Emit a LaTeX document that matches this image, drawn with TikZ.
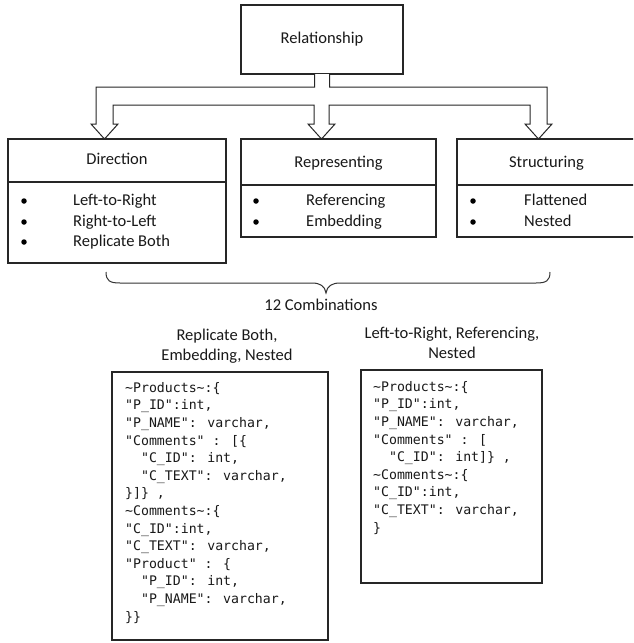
\documentclass[tikz,border=0pt]{standalone}
\usepackage{fontspec}
\setmainfont{Carlito}
\newfontfamily\codefont{DejaVu Sans Mono}
\usetikzlibrary{calc}
\newcommand\codeind{\phantom{xx}}
\begin{document}
\begin{tikzpicture}[x=1pt,y=-1pt,
  box/.style={draw=black!85, line width=1.1pt, fill=white, inner sep=0pt, outer sep=0pt},
  txt/.style={font=\fontsize{16.5}{20}\selectfont, text=black!90, inner sep=0pt, text height=11pt, text depth=3pt},
  item/.style={txt, anchor=west},
  bul/.style={circle, fill=black, inner sep=0pt, minimum size=5.5pt},
  lbl/.style={font=\fontsize{16.5}{20}\selectfont, text=black!90, align=center, inner sep=0pt},
  code/.style={font=\codefont\fontsize{13.2}{17.6}\selectfont, text=black!90, align=left, anchor=north west, inner sep=0pt},
  blockarrow/.style={draw=black!85, line width=1pt, fill=white, line join=miter},
  divider/.style={draw=black!85, line width=1.1pt},
]
\useasboundingbox (0,0) rectangle (633,643);
\clip (0,0) rectangle (633,643);

% top box
\node[box, txt, minimum width=162pt, minimum height=69pt, text height=11pt, text depth=3pt] (rel) at (322,39.5) {Relationship};

% category boxes
\node[box, minimum width=218pt, minimum height=124pt] (dir) at (117,201) {};
\node[box, minimum width=195pt, minimum height=98pt] (rep) at (338.5,188) {};
\node[box, minimum width=179pt, minimum height=98pt] (str) at (546.5,188) {};

\coordinate (dirdiv) at (0,182);
\coordinate (repdiv) at (0,185);
\draw[divider] (dir.west |- dirdiv) -- (dir.east |- dirdiv);
\draw[divider] (rep.west |- repdiv) -- (rep.east |- repdiv);
\draw[divider] (str.west |- repdiv) -- (str.east |- repdiv);

\node[txt] (dirh) at (117,160) {Direction};
\node[txt] (reph) at (338.5,163) {Representing};
\node[txt] (strh) at (546.5,163) {Structuring};

% bullets and items
\node[bul] (db1) at (24,201) {};
\node[bul] (db2) at (24,222) {};
\node[bul] (db3) at (24,242) {};
\node[item] (di1) at (73,201) {Left-to-Right};
\node[item] (di2) at (73,222) {Right-to-Left};
\node[item] (di3) at (73,242) {Replicate Both};

\node[bul] (rb1) at (256,201) {};
\node[bul] (rb2) at (256,222) {};
\node[item] (ri1) at (306,201) {Referencing};
\node[item] (ri2) at (306,222) {Embedding};

\node[bul] (sb1) at (473,201) {};
\node[bul] (sb2) at (473,222) {};
\node[item] (si1) at (524,201) {Flattened};
\node[item] (si2) at (524,222) {Nested};

% block arrow connector
\coordinate (tipA) at (104.5,139);
\coordinate (tipB) at (321.5,139);
\coordinate (tipC) at (538.5,139);
\filldraw[blockarrow]
  ($(rel.south)+(-7.5,0)$) |- ($(tipA)+(-8.5,-52)$) -- ++(0,37) -- ++(-5,0) -- (tipA)
  -- ++(13.5,-15) -- ++(-5,0) |- ($(tipB)+(-7.5,-34)$) -- ++(0,19) -- ++(-6,0) -- (tipB)
  -- ++(13.5,-15) -- ++(-6,0) |- ($(tipC)+(-8.5,-34)$) -- ++(0,19) -- ++(-5,0) -- (tipC)
  -- ++(13.5,-15) -- ++(-5,0) |- ($(rel.south)+(7.5,13)$) -- ($(rel.south)+(7.5,0)$);

% brace
\draw[black!80, line width=1pt]
  (106,272) .. controls (106,281) and (110,283) .. (120,283) -- (312,283)
  .. controls (320,283) and (325,286) .. (326,293)
  .. controls (327,286) and (332,283) .. (340,283) -- (536,283)
  .. controls (546,283) and (550,281) .. (550,272);

\node[txt] (comb) at (321,306) {12 Combinations};

\node[lbl] (lab1) at (227,346) {Replicate Both,\\Embedding, Nested};
\node[lbl] (lab2) at (452,343) {Left-to-Right, Referencing,\\Nested};

% code boxes
\node[box, minimum width=216pt, minimum height=268pt] (code1) at (220,506) {};
\node[box, minimum width=181pt, minimum height=213pt] (code2) at (451.5,476.5) {};

\node[code] (c1) at (125,382) {%
\textasciitilde Products\textasciitilde :\{\\
"P\_ID":int,\\
"P\_NAME": varchar,\\
"Comments" : [\{\\
\codeind"C\_ID": int,\\
\codeind"C\_TEXT": varchar,\\
\}]\} ,\\
\textasciitilde Comments\textasciitilde :\{\\
"C\_ID":int,\\
"C\_TEXT": varchar,\\
"Product" : \{\\
\codeind"P\_ID": int,\\
\codeind"P\_NAME": varchar,\\
\}\}};

\node[code] (c2) at (373,381) {%
\textasciitilde Products\textasciitilde :\{\\
"P\_ID":int,\\
"P\_NAME": varchar,\\
"Comments" : [\\
\codeind"C\_ID": int]\} ,\\
\textasciitilde Comments\textasciitilde :\{\\
"C\_ID":int,\\
"C\_TEXT": varchar,\\
\}};
\end{tikzpicture}
\end{document}
